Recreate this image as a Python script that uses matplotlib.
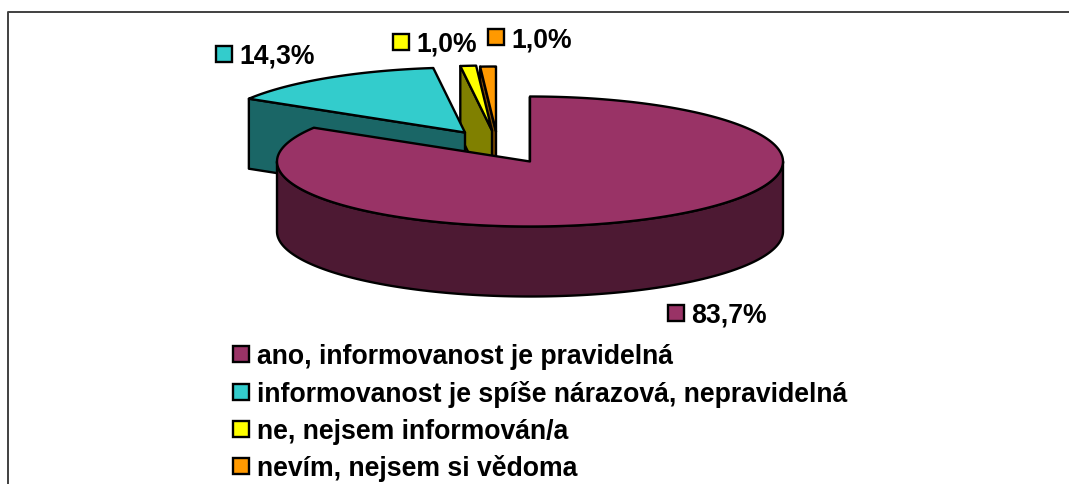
#!/usr/bin/env python3
"""Exploded 3D pie chart, drawn as polygons in pixel coordinates."""

import numpy as np
import matplotlib
matplotlib.use('Agg')
import matplotlib.pyplot as plt
from matplotlib.patches import Polygon, Rectangle

plt.rcParams['font.family'] = ['Liberation Sans', 'DejaVu Sans']

categories = ['ano, informovanost je pravidelná',
              'informovanost je spíše nárazová, nepravidelná',
              'ne, nejsem informován/a',
              'nevím, nejsem si vědoma']
values = [83.7, 14.3, 1.0, 1.0]
colors = ['#993366', '#33CCCC', '#FFFF00', '#FF9900']
wall_colors = ['#4D1933', '#1A6666', '#808000', '#804C00']

# pie geometry (pixels)
RX, RY, DEPTH = 253, 65, 70
CENTERS = [(530, 162.5), (465, 133.5), (492, 131.5), (496, 132.5)]
LW = 1.7
EDGE = '#000000'


def rim(cx, cy, t):
    # t is degrees clockwise from 12 o'clock
    t = np.radians(t)
    return cx + RX * np.sin(t), cy - RY * np.cos(t)


def add_poly(ax, xs, ys, color, z):
    ax.add_patch(Polygon(np.column_stack([xs, ys]), closed=True, facecolor=color,
                         edgecolor=EDGE, linewidth=LW, joinstyle='round', zorder=z))


def draw_slice(ax, idx, start, end, z):
    cx, cy = CENTERS[idx]
    # inner wall on the starting edge
    x0, y0 = rim(cx, cy, start)
    add_poly(ax, [x0, cx, cx, x0], [y0, cy, cy + DEPTH, y0 + DEPTH], wall_colors[idx], z)

    # outer wall, only the front half of the ellipse can be seen
    lo, hi = max(start, 90), min(end, 270)
    if lo < hi:
        t = np.linspace(lo, hi, 200)
        xs, ys = rim(cx, cy, t)
        add_poly(ax, np.r_[xs, xs[::-1]], np.r_[ys, ys[::-1] + DEPTH], wall_colors[idx], z + 0.1)

    # top face
    t = np.linspace(start, end, 300)
    xs, ys = rim(cx, cy, t)
    add_poly(ax, np.r_[cx, xs], np.r_[cy, ys], colors[idx], z + 0.2)


def pct(v):
    return f'{v:.1f}%'.replace('.', ',')


def key(ax, x, bottom, color, text, tx, fs=19.2):
    ax.add_patch(Rectangle((x + 1, bottom - 17), 16, 16, facecolor=color, edgecolor=EDGE,
                           linewidth=LW, zorder=10))
    ax.text(tx, bottom, text, fontsize=fs, fontweight='bold', color='black',
            ha='left', va='baseline', zorder=10)


fig = plt.figure(figsize=(10.69, 4.85), dpi=100, facecolor='white')
ax = fig.add_axes([0, 0, 1, 1])
ax.set_xlim(0, 1069)
ax.set_ylim(485, 0)
ax.axis('off')

# frame, open on the right and at the bottom
ax.plot([8, 8, 1069], [485, 13, 13], color='#404040', linewidth=1.4, zorder=1)

# slice angles come from the values, start at 12 o'clock and go clockwise
edges = np.r_[0, np.cumsum(values)] / 100 * 360

# back slices first so the big one covers them
draw_slice(ax, 3, edges[3], edges[4], 2)
draw_slice(ax, 2, edges[2], edges[3], 3)
draw_slice(ax, 1, edges[1], edges[2], 4)
draw_slice(ax, 0, edges[0], edges[1], 5)

# data labels
key(ax, 667, 323, colors[0], pct(values[0]), 691)
key(ax, 215, 64, colors[1], pct(values[1]), 239)
key(ax, 392, 52, colors[2], pct(values[2]), 416)
key(ax, 487, 47, colors[3], pct(values[3]), 511)

# legend
legend_bottoms = [364, 402, 439, 476]
for i, name in enumerate(categories):
    key(ax, 232, legend_bottoms[i], colors[i], name, 257)

plt.savefig('out.png', dpi=100)
